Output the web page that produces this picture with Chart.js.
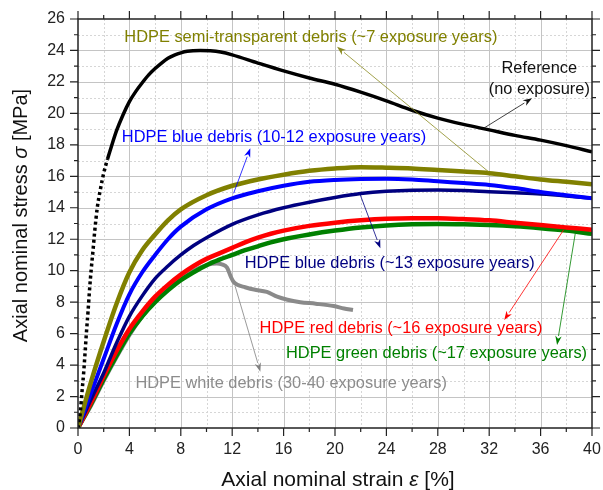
<!DOCTYPE html>
<html><head><meta charset="utf-8">
<script src="https://cdn.jsdelivr.net/npm/chart.js@4.4.1/dist/chart.umd.min.js"></script>
<style>html,body{margin:0;padding:0;background:#fff}canvas{display:block}</style>
</head><body><canvas id="c" width="603" height="490"></canvas>
<script>
// ---------- data (strain %, stress MPa) ----------
const refX = [0,0.1,0.18,0.3,0.44,0.55,0.65,0.78,0.9,1.03,1.17,1.3,1.5,1.75,2.0,2.3,2.6,3.0,3.5,4,4.5,5,5.5,6,6.5,7,7.5,8,8.5,9.5,10.3,11.1,12,14,16,18,20,22,24,26,28,30,32,34,36,38,40];
const refY = [0,0.5,1.0,2.2,3.5,4.8,6.0,7.4,8.8,10.1,11.3,12.5,14.0,15.2,16.2,17.1,17.9,18.9,19.9,20.75,21.4,21.95,22.45,22.85,23.2,23.5,23.7,23.85,23.95,24.0,23.98,23.9,23.72,23.2,22.7,22.25,21.85,21.35,20.8,20.2,19.7,19.3,18.95,18.6,18.3,17.95,17.55];

const oliveX = [0,1,2,3,4,5,6,7,8,10,12,14,16,18,20,22,24,26,28,30,32,34,36,38,40];
const oliveY = [0,2.9,5.5,7.9,9.9,11.3,12.3,13.2,13.9,14.8,15.4,15.8,16.1,16.35,16.5,16.58,16.55,16.5,16.4,16.3,16.2,16.0,15.8,15.65,15.5];

const blueX = [0,1,2,3,4,5,6,7,8,10,12,14,16,18,20,22,24,26,28,30,32,34,36,38,40];
const blueY = [0,2.2,4.4,6.6,8.5,9.9,11.0,12.0,12.8,13.9,14.6,15.05,15.4,15.65,15.77,15.83,15.85,15.8,15.68,15.57,15.45,15.25,15.0,14.8,14.6];

const navyX = [0,1,2,3,4,5,6,7,8,9,10,12,14,16,18,20,22,24,26,28,30,32,34,36,38,40];
const navyY = [0,1.8,3.5,5.4,7.1,8.4,9.5,10.3,11.0,11.6,12.1,12.95,13.55,14.0,14.35,14.65,14.9,15.05,15.12,15.13,15.1,15.02,14.95,14.87,14.75,14.6];

const redX = [0,1,2,3,4,5,6,7,8,9,10,11,12,13,14,15,16,18,20,22,24,26,28,30,32,34,36,38,40];
const redY = [0,1.6,3.3,4.9,6.3,7.4,8.35,9.1,9.75,10.3,10.75,11.1,11.45,11.8,12.1,12.35,12.55,12.85,13.05,13.2,13.3,13.33,13.33,13.28,13.2,13.05,12.9,12.75,12.6];

const greenX = [0,1,2,3,4,5,6,7,8,9,10,11,12,13,14,15,16,18,20,22,24,26,28,30,32,34,36,38,40];
const greenY = [0,1.5,3.1,4.6,6.0,7.1,8.0,8.75,9.4,9.9,10.35,10.7,11.0,11.3,11.55,11.8,12.0,12.3,12.55,12.75,12.88,12.95,12.97,12.95,12.9,12.82,12.7,12.55,12.35];

const grayX = [0,1,2,3,4,5,6,7,8,9,10,10.8,11.2,11.6,11.9,12.1,12.4,13,13.7,14.7,15.5,16.3,17.3,18.5,19.9,20.7,21.4];
const grayY = [0,1.4,3.0,4.5,5.9,7.1,8.1,8.9,9.5,10.0,10.35,10.45,10.4,10.2,9.6,9.3,9.1,8.95,8.8,8.65,8.35,8.15,8.0,7.9,7.75,7.6,7.5];

const xMajorStep = 4, xMinorStep = 2, xMax = 40;
const yMajorStep = 2, yMinorStep = 1, yMax = 26;

// annotations: text, colour, text anchor (data units, centre/baseline), arrow tail -> head (data units)
const notes = [
  {lines:['HDPE semi-transparent debris (~7 exposure years)'], color:'#808000', ac:'#8a8a20', tx:18.12, ty:24.56, a:[31.95,16.29,20.16,24.24]},
  {lines:['Reference','(no exposure)'], color:'#111111', ac:'#111111', tx:35.9, ty:22.55, ty2:21.23, a:[31.56,19.05,35.33,20.96]},
  {lines:['HDPE blue debris (10-12 exposure years)'], color:'#0000ff', ac:'#0000ff', tx:15.25, ty:18.2, a:[12.11,14.92,13.41,17.78]},
  {lines:['HDPE blue debris (~13 exposure years)'], color:'#000080', ac:'#000080', tx:24.26, ty:10.15, a:[21.97,14.81,23.53,11.42]},
  {lines:['HDPE red debris (~16 exposure years)'], color:'#ff0000', ac:'#ff0000', tx:25.14, ty:6.06, a:[37.79,12.59,33.17,6.86]},
  {lines:['HDPE green debris (~17 exposure years)'], color:'#008000', ac:'#008000', tx:27.9, ty:4.43, a:[38.7,12.38,37.28,5.28]},
  {lines:['HDPE white debris (30-40 exposure years)'], color:'#8c8c8c', ac:'#808080', tx:16.59, ty:2.52, a:[12.24,8.98,14.19,3.58]}
];

const FONT = "'Liberation Sans', Arial, sans-serif";
const pts = (xs, ys) => xs.map((x, i) => ({x, y: ys[i]}));

function arrow(ctx, x1, y1, x2, y2, color) {
  const ang = Math.atan2(y2 - y1, x2 - x1), L = 9, W = 3.2;
  const bx = x2 - L * Math.cos(ang), by = y2 - L * Math.sin(ang);
  ctx.strokeStyle = color; ctx.fillStyle = color; ctx.lineWidth = 0.8; ctx.setLineDash([]);
  ctx.beginPath(); ctx.moveTo(x1, y1); ctx.lineTo(bx, by); ctx.stroke();
  ctx.beginPath(); ctx.moveTo(x2, y2);
  ctx.lineTo(bx + W * Math.sin(ang), by - W * Math.cos(ang));
  ctx.lineTo(x2 - 0.7 * L * Math.cos(ang), y2 - 0.7 * L * Math.sin(ang));
  ctx.lineTo(bx - W * Math.sin(ang), by + W * Math.cos(ang));
  ctx.closePath(); ctx.fill();
}

function mixedText(ctx, parts, size) {
  let w = 0;
  const m = parts.map(p => { ctx.font = (p.i ? 'italic ' : '') + size + 'px ' + FONT; const pw = ctx.measureText(p.t).width; w += pw; return pw; });
  let x = -w / 2;
  parts.forEach((p, k) => { ctx.font = (p.i ? 'italic ' : '') + size + 'px ' + FONT; ctx.fillText(p.t, x, 0); x += m[k]; });
}

const decor = {
  id: 'decor',
  beforeDatasetsDraw(chart) {
    const {ctx, chartArea: a, scales: {x, y}} = chart;
    ctx.save(); ctx.lineWidth = 1;
    for (let v = xMinorStep; v < xMax; v += xMinorStep) {
      const p = Math.round(x.getPixelForValue(v)) + 0.5, major = v % xMajorStep === 0;
      ctx.strokeStyle = major ? '#c4c4c4' : '#d6d6d6'; ctx.setLineDash(major ? [] : [2, 2]);
      ctx.beginPath(); ctx.moveTo(p, a.top); ctx.lineTo(p, a.bottom); ctx.stroke();
    }
    for (let v = yMinorStep; v < yMax; v += yMinorStep) {
      const p = Math.round(y.getPixelForValue(v)) + 0.5, major = v % yMajorStep === 0;
      ctx.strokeStyle = major ? '#c4c4c4' : '#d6d6d6'; ctx.setLineDash(major ? [] : [2, 2]);
      ctx.beginPath(); ctx.moveTo(a.left, p); ctx.lineTo(a.right, p); ctx.stroke();
    }
    ctx.restore();
  },
  afterDatasetsDraw(chart) {
    const {ctx, chartArea: a, scales: {x, y}} = chart;
    ctx.save();
    ctx.strokeStyle = '#222'; ctx.lineWidth = 1.5; ctx.setLineDash([]);
    ctx.strokeRect(a.left, a.top, a.right - a.left, a.bottom - a.top);
    ctx.lineWidth = 1.2;
    ctx.beginPath();
    for (let v = 0; v <= xMax; v += xMinorStep) {
      const p = x.getPixelForValue(v), L = v % xMajorStep === 0 ? 8 : 4;
      ctx.moveTo(p, a.bottom); ctx.lineTo(p, a.bottom + L);
      ctx.moveTo(p, a.top); ctx.lineTo(p, a.top - L);
    }
    for (let v = 0; v <= yMax; v += yMinorStep) {
      const p = y.getPixelForValue(v), L = v % yMajorStep === 0 ? 8 : 4;
      ctx.moveTo(a.left, p); ctx.lineTo(a.left - L, p);
      ctx.moveTo(a.right, p); ctx.lineTo(a.right + L, p);
    }
    ctx.stroke();
    ctx.font = '16.4px ' + FONT; ctx.textAlign = 'center'; ctx.textBaseline = 'alphabetic';
    notes.forEach(n => {
      arrow(ctx, x.getPixelForValue(n.a[0]), y.getPixelForValue(n.a[1]), x.getPixelForValue(n.a[2]), y.getPixelForValue(n.a[3]), n.ac);
      ctx.fillStyle = n.color;
      ctx.fillText(n.lines[0], x.getPixelForValue(n.tx), y.getPixelForValue(n.ty));
      if (n.lines[1]) ctx.fillText(n.lines[1], x.getPixelForValue(n.tx), y.getPixelForValue(n.ty2));
    });
    ctx.fillStyle = '#111'; ctx.textAlign = 'left';
    ctx.save(); ctx.translate((a.left + a.right) / 2 + 3, 486);
    mixedText(ctx, [{t: 'Axial nominal strain '}, {t: 'ε', i: true}, {t: ' [%]'}], 21);
    ctx.restore();
    ctx.save(); ctx.translate(27, (a.top + a.bottom) / 2 - 8); ctx.rotate(-Math.PI / 2);
    mixedText(ctx, [{t: 'Axial nominal stress '}, {t: 'σ', i: true}, {t: ' [MPa]'}], 20);
    ctx.restore();
    ctx.restore();
  }
};

const ds = (label, xs, ys, color, w, order, extra) => Object.assign({
  label, data: pts(xs, ys), borderColor: color, backgroundColor: color, borderWidth: w,
  pointRadius: 0, showLine: true, fill: false, cubicInterpolationMode: 'monotone', order
}, extra || {});

new Chart(document.getElementById('c'), {
  type: 'scatter',
  data: {
    datasets: [
      ds('Reference (no exposure)', refX, refY, '#000000', 3.5, 1, {segment: {borderDash: c => c.p1.parsed.x <= 2.3 ? [3, 3] : undefined}}),
      ds('HDPE semi-transparent debris (~7 exposure years)', oliveX, oliveY, '#808000', 4.5, 2),
      ds('HDPE blue debris (10-12 exposure years)', blueX, blueY, '#0000ff', 4, 3),
      ds('HDPE blue debris (~13 exposure years)', navyX, navyY, '#000080', 3.5, 4),
      ds('HDPE red debris (~16 exposure years)', redX, redY, '#ff0000', 4.5, 5),
      ds('HDPE green debris (~17 exposure years)', greenX, greenY, '#008000', 4.5, 6),
      ds('HDPE white debris (30-40 exposure years)', grayX, grayY, '#8a8a8a', 4, 7)
    ]
  },
  options: {
    responsive: false, animation: false,
    layout: {padding: {top: 19, right: 11, left: 0, bottom: 0}},
    scales: {
      x: {type: 'linear', min: 0, max: xMax,
        ticks: {stepSize: xMajorStep, font: {family: FONT, size: 16}, color: '#222', padding: 0, maxRotation: 0},
        grid: {display: false, drawTicks: true, tickLength: 12}, border: {display: false},
        afterFit(s) { s.height = 62; }},
      y: {type: 'linear', min: 0, max: yMax,
        ticks: {stepSize: yMajorStep, font: {family: FONT, size: 16}, color: '#222', padding: 0},
        grid: {display: false, drawTicks: true, tickLength: 13}, border: {display: false},
        afterFit(s) { s.width = 78; }}
    },
    plugins: {legend: {display: false}, tooltip: {enabled: false}}
  },
  plugins: [decor]
});
</script></body></html>
